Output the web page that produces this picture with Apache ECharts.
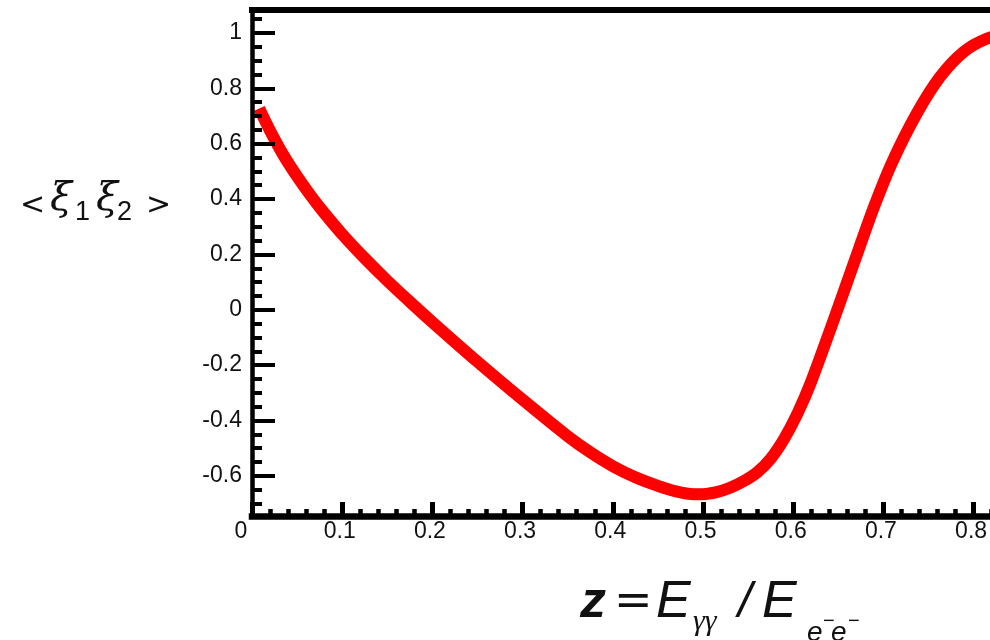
<!DOCTYPE html>
<html>
<head>
<meta charset="utf-8">
<script src="https://cdn.jsdelivr.net/npm/echarts@6/dist/echarts.min.js"></script>
<style>
  html, body { margin: 0; padding: 0; background: #ffffff; }
  #chart { width: 990px; height: 640px; }
</style>
</head>
<body>
<div id="chart"></div>
<script>
// Photon-energy fraction z and the averaged product of the two helicities
const zValues = [0.008, 0.02, 0.035, 0.05, 0.065, 0.08, 0.1, 0.125, 0.15, 0.175, 0.2, 0.25, 0.3, 0.35, 0.375, 0.4, 0.425, 0.45, 0.47, 0.49, 0.5, 0.515, 0.53, 0.545, 0.56, 0.575, 0.59, 0.605, 0.62, 0.645, 0.667, 0.69, 0.71, 0.737, 0.763, 0.789, 0.815, 0.84];
const xiValues = [0.727, 0.647, 0.558, 0.482, 0.413, 0.35, 0.273, 0.186, 0.105, 0.029, -0.045, -0.188, -0.325, -0.457, -0.515, -0.565, -0.605, -0.636, -0.656, -0.666, -0.666, -0.659, -0.643, -0.619, -0.587, -0.538, -0.466, -0.373, -0.259, -0.036, 0.166, 0.375, 0.535, 0.709, 0.842, 0.932, 0.98, 1.0];

// Tick positions and labels
const xMajorTicks = [0, 0.1, 0.2, 0.3, 0.4, 0.5, 0.6, 0.7, 0.8, 0.9, 1.0];
const xMinorTicks = [0.02, 0.04, 0.06, 0.08, 0.12, 0.14, 0.16, 0.18, 0.22, 0.24, 0.26, 0.28,
  0.32, 0.34, 0.36, 0.38, 0.42, 0.44, 0.46, 0.48, 0.52, 0.54, 0.56, 0.58,
  0.62, 0.64, 0.66, 0.68, 0.72, 0.74, 0.76, 0.78, 0.82, 0.84, 0.86, 0.88,
  0.92, 0.94, 0.96, 0.98];
const yMajorTicks = [-0.6, -0.4, -0.2, 0, 0.2, 0.4, 0.6, 0.8, 1];
const yMinorTicks = [-0.7, -0.65, -0.55, -0.5, -0.45, -0.35, -0.3, -0.25, -0.15, -0.1, -0.05,
  0.05, 0.1, 0.15, 0.25, 0.3, 0.35, 0.45, 0.5, 0.55, 0.65, 0.7, 0.75, 0.85, 0.9, 0.95, 1.05];

const xRange = [0, 1];
const yRange = [-0.745, 1.083];

const fmt = v => String(parseFloat(Number(v).toFixed(2)));
const labelFont = { color: '#111111', fontFamily: 'Liberation Sans, Arial, sans-serif', fontSize: 23 };

const chart = echarts.init(document.getElementById('chart'), null, { renderer: 'canvas' });

function plainAxis(extra) {
  return Object.assign({
    type: 'value',
    splitLine: { show: false },
    axisLabel: { show: false },
    axisTick: { show: false },
    axisLine: { show: false, onZero: false },
    z: 5
  }, extra);
}

const option = {
  animation: false,
  backgroundColor: '#ffffff',
  grid: { left: 252, right: -164, top: 10, bottom: 124, containLabel: false, outerBoundsMode: 'none' },
  xAxis: [
    plainAxis({
      position: 'bottom', min: xRange[0], max: xRange[1],
      axisLine: { show: true, onZero: false, lineStyle: { color: '#000', width: 6.5, cap: 'square' } },
      axisTick: { show: true, inside: true, length: 14, customValues: xMajorTicks, lineStyle: { color: '#000', width: 5 } },
      axisLabel: Object.assign({
        show: true, margin: 4, customValues: xMajorTicks,
        formatter: v => (Math.abs(v) < 1e-9 ? '{o|0}' : '{n|' + fmt(v) + '}'),
        rich: {
          o: Object.assign({ padding: [0, 22, 0, 0] }, labelFont),
          n: Object.assign({ padding: [0, 5, 0, 0] }, labelFont)
        }
      }, labelFont)
    }),
    plainAxis({
      position: 'bottom', min: xRange[0], max: xRange[1],
      axisLine: { show: false, onZero: false },
      axisTick: { show: true, inside: true, length: 7, customValues: xMinorTicks, lineStyle: { color: '#000', width: 4.5 } }
    }),
    plainAxis({
      position: 'top', min: xRange[0], max: xRange[1],
      axisLine: { show: true, onZero: false, lineStyle: { color: '#000', width: 6, cap: 'square' } }
    })
  ],
  yAxis: [
    plainAxis({
      position: 'left', min: yRange[0], max: yRange[1],
      axisLine: { show: true, onZero: false, lineStyle: { color: '#000', width: 4.5, cap: 'square' } },
      axisTick: { show: true, inside: true, length: 23, customValues: yMajorTicks, lineStyle: { color: '#000', width: 4 } },
      axisLabel: Object.assign({ show: true, margin: 10, customValues: yMajorTicks, formatter: v => fmt(v) }, labelFont)
    }),
    plainAxis({
      position: 'left', min: yRange[0], max: yRange[1],
      axisLine: { show: false, onZero: false },
      axisTick: { show: true, inside: true, length: 10, customValues: yMinorTicks, lineStyle: { color: '#000', width: 4 } }
    })
  ],
  series: [{
    type: 'line',
    xAxisIndex: 0,
    yAxisIndex: 0,
    data: zValues.map((z, i) => [z, xiValues[i]]),
    showSymbol: false,
    smooth: 0.3,
    lineStyle: { color: '#ff0000', width: 12, cap: 'butt', join: 'round' },
    z: 2
  }],
  graphic: [
    // vertical axis title: < ξ1 ξ2 >
    { type: 'text', x: 20, y: 206, style: { text: '<', font: '30px "DejaVu Sans"', fill: '#111', verticalAlign: 'middle' } },
    { type: 'text', x: 50, y: 200, style: { text: 'ξ', font: 'italic 40px "DejaVu Serif"', fill: '#111', verticalAlign: 'middle' } },
    { type: 'text', x: 75, y: 213, style: { text: '1', font: '27px "Liberation Sans"', fill: '#111', verticalAlign: 'middle' } },
    { type: 'text', x: 96, y: 200, style: { text: 'ξ', font: 'italic 40px "DejaVu Serif"', fill: '#111', verticalAlign: 'middle' } },
    { type: 'text', x: 117, y: 213, style: { text: '2', font: '27px "Liberation Sans"', fill: '#111', verticalAlign: 'middle' } },
    { type: 'text', x: 146, y: 206, style: { text: '>', font: '30px "DejaVu Sans"', fill: '#111', verticalAlign: 'middle' } },
    // horizontal axis title: z = Eγγ / Ee⁻e⁻
    { type: 'text', x: 580, y: 603, style: { text: 'z', font: 'italic bold 52px "Liberation Sans"', fill: '#111', verticalAlign: 'middle' } },
    { type: 'text', x: 614, y: 603, style: { text: '=', font: '46px "DejaVu Sans"', fill: '#111', verticalAlign: 'middle' } },
    { type: 'text', x: 656, y: 603, style: { text: 'E', font: 'italic 52px "Liberation Sans"', fill: '#111', verticalAlign: 'middle' } },
    { type: 'text', x: 693, y: 622, style: { text: 'γγ', font: 'italic 30px "Liberation Serif"', fill: '#111', verticalAlign: 'middle' } },
    { type: 'text', x: 738, y: 603, style: { text: '/', font: 'italic 50px "Liberation Sans"', fill: '#111', verticalAlign: 'middle' } },
    { type: 'text', x: 762, y: 603, style: { text: 'E', font: 'italic 52px "Liberation Sans"', fill: '#111', verticalAlign: 'middle' } },
    { type: 'text', x: 807, y: 633, style: { text: 'e', font: 'italic 28px "Liberation Sans"', fill: '#111', verticalAlign: 'middle' } },
    { type: 'text', x: 823, y: 621, style: { text: '\u2212', font: '20px "Liberation Sans"', fill: '#111', verticalAlign: 'middle' } },
    { type: 'text', x: 831, y: 633, style: { text: 'e', font: 'italic 28px "Liberation Sans"', fill: '#111', verticalAlign: 'middle' } },
    { type: 'text', x: 848, y: 621, style: { text: '\u2212', font: '20px "Liberation Sans"', fill: '#111', verticalAlign: 'middle' } }
  ]
};

chart.setOption(option);
</script>
</body>
</html>
